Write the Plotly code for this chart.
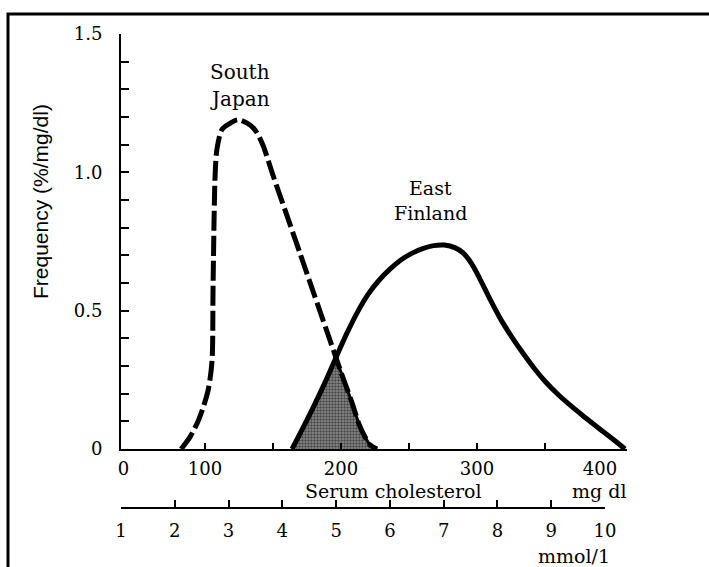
import numpy as np
import plotly.graph_objects as go

# ---- data ----
japan_x = [82.4, 89.0, 95.6, 102.2, 105.1, 105.9, 107.4, 108.8, 112.5, 118.4, 124.3,
           133.1, 137.5, 142.6, 150.0, 160.0, 170.0, 180.0, 190.0, 199.3,
           208.1, 214.0, 221.3, 226.5]
japan_y = [0.0, 0.044, 0.109, 0.211, 0.316, 0.588, 0.988, 1.086, 1.155, 1.177, 1.19,
           1.171, 1.148, 1.098, 0.989, 0.847, 0.705, 0.562, 0.420, 0.287,
           0.167, 0.080, 0.015, 0.0]

finland_x = [164.0, 172.0, 180.0, 188.0, 196.0, 204.0, 212.0, 220.0, 228.0, 236.0,
             244.0, 252.0, 260.0, 268.0, 276.0, 284.0, 290.0, 296.0, 302.0, 310.0,
             318.0, 326.0, 334.0, 342.0, 350.0, 360.0, 370.0, 380.0, 390.0, 400.0, 408.8]
finland_y = [0.0, 0.076, 0.155, 0.238, 0.327, 0.415, 0.494, 0.560, 0.610, 0.650,
             0.683, 0.707, 0.724, 0.735, 0.737, 0.727, 0.708, 0.670, 0.616, 0.537,
             0.464, 0.402, 0.345, 0.292, 0.245, 0.195, 0.152, 0.112, 0.073, 0.035, 0.0]

mg_tick_labels = ["0", "100", "200", "300", "400"]
mg_label_vals = [40.0, 100, 200, 300, 390.4]
mg_tick_marks = [100, 150, 200, 250, 300, 350]
mmol_ticks = [1, 2, 3, 4, 5, 6, 7, 8, 9, 10]
freq_ticks = [0, 0.5, 1.0, 1.5]
freq_labels = ["0", "0.5", "1.0", "1.5"]

# ---- overlap (shaded) region: Finland up to crossing, Japan after ----
jx, jy = np.array(japan_x), np.array(japan_y)
fx, fy = np.array(finland_x), np.array(finland_y)
grid = np.linspace(fx.min(), jx.max(), 800)
diff = np.interp(grid, jx, jy) - np.interp(grid, fx, fy)
i = np.where(np.diff(np.sign(diff)) != 0)[0][-1]
cross = grid[i]
cross_y = float(np.interp(cross, fx, fy))
sx = list(fx[fx < cross]) + [cross] + list(jx[jx > cross])
sy = list(fy[fx < cross]) + [cross_y] + list(jy[jx > cross])

serif = "DejaVu Serif"
fig = go.Figure()

fig.add_trace(go.Scatter(
    x=sx, y=sy, mode="lines", line=dict(color="black", width=3, shape="spline", smoothing=0.6),
    fill="tozeroy", fillcolor="rgba(0,0,0,0)",
    fillpattern=dict(shape=".", fgcolor="black", bgcolor="#8f8f8f", size=3, solidity=0.5),
    hoverinfo="skip", showlegend=False))

fig.add_trace(go.Scatter(
    x=japan_x, y=japan_y, mode="lines",
    line=dict(color="black", width=5, dash="20px,5px", shape="spline", smoothing=0.8),
    hoverinfo="skip", showlegend=False))

fig.add_trace(go.Scatter(
    x=finland_x, y=finland_y, mode="lines",
    line=dict(color="black", width=5, shape="spline", smoothing=1.0),
    hoverinfo="skip", showlegend=False))

# invisible trace so the mmol/l axis is drawn
fig.add_trace(go.Scatter(x=[1, 10], y=[0, 0], xaxis="x2", yaxis="y", mode="markers",
                         marker=dict(opacity=0), hoverinfo="skip", showlegend=False))

W, H = 709, 567
L, R, T, B = 121, 82, 34, 47
ph = H - T - B
pw = W - L - R
def px(x):
    return (x - L) / pw
def py(y):
    return (H - B - y) / ph

fig.update_layout(
    width=W, height=H,
    margin=dict(l=L, r=R, t=T, b=B, pad=0),
    paper_bgcolor="white", plot_bgcolor="rgba(0,0,0,0)",
    showlegend=False,
    font=dict(family=serif, color="black", size=18),
    xaxis=dict(
        range=[38.2, 410.3], domain=[0, 1], anchor="y",
        showline=True, linecolor="black", linewidth=2, showgrid=False, zeroline=False,
        tickmode="array", tickvals=mg_label_vals, ticktext=mg_tick_labels, ticks="",
        ticklabelstandoff=2,
        minor=dict(tickmode="array", tickvals=mg_tick_marks, ticks="inside",
                   ticklen=6, tickwidth=2, tickcolor="black"),
        tickfont=dict(family=serif, size=18, color="black"),
    ),
    yaxis=dict(
        range=[0, 1.5], domain=[py(449), 1], anchor="x",
        showline=True, linecolor="black", linewidth=2, showgrid=False, zeroline=False,
        tickmode="array", tickvals=freq_ticks, ticktext=freq_labels,
        ticks="inside", ticklen=8, tickwidth=2, tickcolor="black",
        ticklabelstandoff=13,
        minor=dict(dtick=0.1, tick0=0, ticks="inside", ticklen=8, tickwidth=2, tickcolor="black"),
        tickfont=dict(family=serif, size=18, color="black"),
    ),
    xaxis2=dict(
        range=[1, 10], domain=[0, px(605)], anchor="free", position=py(508),
        showline=True, linecolor="black", linewidth=2, showgrid=False, zeroline=False,
        tickmode="array", tickvals=mmol_ticks, ticks="inside", ticklen=7,
        tickwidth=2, tickcolor="black", ticklabelstandoff=6,
        tickfont=dict(family=serif, size=18, color="black"),
    ),
)

def ann(text, x, y, size=19, family=serif, angle=0):
    fig.add_annotation(text=text, x=px(x), y=py(y), xref="paper", yref="paper",
                       showarrow=False, xanchor="center", yanchor="middle",
                       textangle=angle, font=dict(family=family, size=size, color="black"))

ann("South", 240, 72, size=20)
ann("Japan", 240, 99, size=20)
ann("East", 430, 188)
ann("Finland", 430, 213)
ann("Serum cholesterol", 393, 491)
ann("mg dl", 599, 491)
ann("mmol/1", 574, 556)
ann("Frequency (%/mg/dl)", 40, 202, size=21, family="Liberation Sans", angle=-90)

# outer frame
fig.add_shape(type="rect", xref="paper", yref="paper",
              x0=px(8), x1=px(760), y0=py(620), y1=py(14),
              line=dict(color="black", width=3), fillcolor="rgba(0,0,0,0)")

fig.write_html("out.html", config={"displayModeBar": False},
               post_script="document.body.style.margin='0';document.body.style.overflow='hidden';")
